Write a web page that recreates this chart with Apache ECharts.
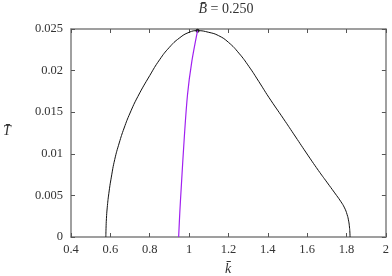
<!DOCTYPE html>
<html><head><meta charset="utf-8">
<script src="https://cdn.jsdelivr.net/npm/echarts@6/dist/echarts.min.js"></script>
<style>html,body{margin:0;padding:0;background:#fff}#c{width:392px;height:276px}</style>
</head><body><div id="c"></div>
<script>
// black curve: k values and T values
var curveK = [0.577,0.578,0.580,0.584,0.592,0.605,0.622,0.645,0.670,0.700,0.740,0.800,0.850,0.900,0.950,1.000,1.043,1.100,1.150,1.200,1.253,1.304,1.354,1.405,1.480,1.531,1.596,1.657,1.700,1.740,1.770,1.790,1.803,1.811,1.815,1.817,1.818];
var curveT = [0,0.0010,0.0022,0.0035,0.0052,0.0072,0.0093,0.0113,0.0131,0.0149,0.0169,0.0194,0.0213,0.0228,0.0239,0.0246,0.0248,0.0246,0.0242,0.0234,0.0221,0.0205,0.0187,0.0168,0.0142,0.0124,0.0101,0.0080,0.0066,0.0053,0.0043,0.0035,0.0027,0.0019,0.0012,0.0006,0];
// purple line
var lineK = [0.947,0.953,0.960,0.9755,0.992,1.014,1.043];
var lineT = [0,0.003,0.0059,0.0119,0.0171,0.0211,0.0248];
// peak marker
var peakK = [1.043];
var peakT = [0.0248];
var xTicks = {min:0.4,max:2,interval:0.2};
var yTicks = {min:0,max:0.025,interval:0.005};
var titleValue = '0.250';

function pairs(a,b){return a.map(function(v,i){return [v,b[i]];});}
var font = 'Liberation Serif';
var axisColor = '#808080';
var chart = echarts.init(document.getElementById('c'));
function mkX(pos, show){
  return {type:'value', position:pos, min:xTicks.min, max:xTicks.max, interval:xTicks.interval,
    axisLine:{show:true, onZero:false, lineStyle:{color:axisColor,width:1.5}},
    axisTick:{show:true, inside:true, length:4, lineStyle:{color:'#555',width:1}},
    axisLabel:{show:show, margin:6, fontFamily:font, fontSize:12.5, color:'#333',
      formatter:function(v){return String(+v.toFixed(3));}},
    splitLine:{show:false}};
}
function mkY(pos, show){
  return {type:'value', position:pos, min:yTicks.min, max:yTicks.max, interval:yTicks.interval,
    axisLine:{show:true, onZero:false, lineStyle:{color:axisColor,width:1.5}},
    axisTick:{show:true, inside:true, length:4, lineStyle:{color:'#555',width:1}},
    axisLabel:{show:show, margin:8, fontFamily:font, fontSize:12.5, color:'#333',
      formatter:function(v){return String(+v.toFixed(4));}},
    splitLine:{show:false}};
}
chart.setOption({
  animation:false,
  backgroundColor:'#fff',
  grid:{left:71, right:4, top:29, bottom:39},
  xAxis:[mkX('bottom',true), mkX('top',false)],
  yAxis:[mkY('left',true), mkY('right',false)],
  graphic:[
    {type:'text', x:226, y:2, style:{
      text:'{i|B\u0304} = '+titleValue, align:'center',
      font:'14px '+font, fill:'#333',
      rich:{i:{fontStyle:'italic', fontFamily:font, fontSize:14}}}},
    {type:'text', x:3, y:124, style:{text:'T\u0304', font:'italic 14px '+font, fill:'#333'}},
    {type:'text', x:225, y:262, style:{text:'k\u0304', font:'italic 14px '+font, fill:'#333'}}
  ],
  series:[
    {type:'line', data:pairs(curveK,curveT), smooth:0.5, symbol:'none',
      lineStyle:{color:'#111', width:1}},
    {type:'line', data:pairs(lineK,lineT), smooth:0.3, symbol:'none',
      lineStyle:{color:'#a020f0', width:1.2}},
    {type:'scatter', data:pairs(peakK,peakT), symbolSize:4, itemStyle:{color:'#000'}}
  ]
});
</script></body></html>
